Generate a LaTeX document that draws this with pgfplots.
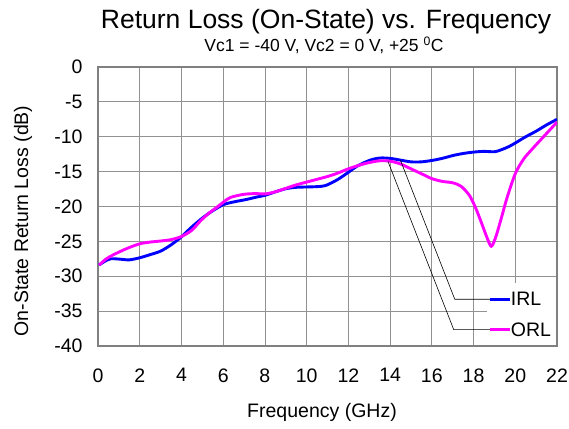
\documentclass[border=0pt]{standalone}
\usepackage{pgfplots}
\pgfplotsset{compat=1.18}
\usepackage{fontspec}
\setmainfont{Liberation Sans}
\definecolor{gridc}{RGB}{145,145,145}
\definecolor{framec}{RGB}{128,128,128}
\definecolor{irl}{RGB}{0,0,255}
\definecolor{orl}{RGB}{255,0,255}
\begin{document}
\begin{tikzpicture}[x=1pt,y=1pt]
\useasboundingbox (0,0) rectangle (569,428);
\begin{axis}[
  at={(98pt,82pt)}, anchor=south west,
  scale only axis, width=459pt, height=279pt,
  xmin=0, xmax=22, ymin=-40, ymax=0,
  xtick={0,2,...,22}, ytick={-40,-35,...,0},
  yticklabels={-40,-35,-30,-25,-20,-15,-10,-5,0},
  xticklabels={0,2,4,6,8,10,12,14,16,18,20,22},
  major tick length=0pt,
  grid=major,
  major grid style={gridc, line width=0.8pt},
  axis line style={framec, line width=1.3pt},
  tick label style={font=\fontsize{19.5}{22}\selectfont},
  yticklabel style={xshift=-12pt},
  xticklabel style={yshift=-19pt},
  /pgf/number format/assume math mode=true,
]
\addplot[irl, line width=2.9pt, smooth] coordinates {
(0.05,-28.4) (0.3,-27.9) (0.6,-27.5) (1.05,-27.55) (1.5,-27.65) (2.0,-27.35)
(2.5,-26.9) (3.0,-26.4) (3.5,-25.5) (4.0,-24.35) (4.4,-23.2) (4.9,-21.9)
(5.4,-20.8) (6.0,-19.75) (6.5,-19.35) (7.1,-19.0) (7.6,-18.65) (8.0,-18.4)
(8.5,-17.9) (9.0,-17.45) (9.5,-17.25) (10.0,-17.2) (10.5,-17.15) (10.9,-17.0)
(11.45,-16.2) (12.0,-15.1) (12.4,-14.25) (13.0,-13.4) (13.5,-13.05) (14.0,-13.1)
(14.5,-13.35) (15.0,-13.6) (15.5,-13.6) (16.0,-13.4) (16.5,-13.1) (17.0,-12.7)
(17.5,-12.4) (18.0,-12.2) (18.5,-12.1) (19.0,-12.15) (19.3,-11.9) (19.7,-11.4)
(20.0,-10.9) (20.5,-10.0) (21.0,-9.2) (21.5,-8.3) (22.0,-7.5)
};
\addplot[orl, line width=2.9pt, smooth] coordinates {
(0.05,-28.4) (0.4,-27.5) (0.75,-26.9) (1.4,-26.0) (2.0,-25.35) (2.5,-25.1)
(3.0,-24.95) (3.5,-24.75) (4.0,-24.3) (4.5,-23.4) (4.9,-22.1) (5.3,-21.0)
(5.7,-20.1) (6.0,-19.4) (6.35,-18.7) (7.0,-18.25) (7.6,-18.15) (8.0,-18.2)
(8.5,-17.9) (9.0,-17.4) (9.5,-16.9) (10.0,-16.5) (10.5,-16.1) (11.0,-15.7)
(11.5,-15.2) (12.0,-14.6) (12.5,-14.1) (13.0,-13.7) (13.5,-13.45) (14.0,-13.5)
(14.5,-13.9) (15.0,-14.6) (15.5,-15.3) (16.0,-16.0) (16.5,-16.4) (17.0,-16.6)
(17.4,-17.1) (17.8,-18.4) (18.1,-20.2) (18.4,-22.5) (18.65,-24.5) (18.85,-25.7)
(19.05,-24.5) (19.3,-22.0) (19.6,-18.8) (20.0,-15.3) (20.4,-13.2) (20.8,-11.8)
(21.2,-10.5) (21.6,-9.2) (22.0,-7.9)
};
\fill[white] (axis cs:18.65,-39.85) rectangle (axis cs:21.94,-31);
\draw[black, line width=0.6pt] (axis cs:14.5,-13.4) -- (axis cs:17.1,-33.3) -- (axis cs:18.8,-33.3);
\draw[black, line width=0.6pt] (axis cs:13.9,-13.55) -- (axis cs:17.05,-37.65) -- (axis cs:18.8,-37.65);
\draw[irl, line width=2.9pt] (axis cs:18.8,-33.3) -- (axis cs:19.75,-33.3);
\draw[orl, line width=2.9pt] (axis cs:18.8,-37.65) -- (axis cs:19.75,-37.65);
\node[anchor=west, inner sep=0pt, font=\fontsize{19.5}{22}\selectfont] at (axis cs:19.78,-33.3) {IRL};
\node[anchor=west, inner sep=0pt, font=\fontsize{19.5}{22}\selectfont] at (axis cs:19.78,-37.65) {ORL};
\end{axis}
\node[anchor=base, inner sep=0pt, font=\fontsize{26.5}{30}\selectfont] at (326,399) {Return Loss (On-State) vs. Frequency};
\node[anchor=base, inner sep=0pt, font=\fontsize{17.5}{20}\selectfont] at (324,376) {Vc1 = -40 V, Vc2 = 0 V, +25 \textsuperscript{0}C};
\node[anchor=base, inner sep=0pt, font=\fontsize{19.5}{22}\selectfont] at (322,11) {Frequency (GHz)};
\node[anchor=base, rotate=90, inner sep=0pt, font=\fontsize{19.5}{22}\selectfont] at (28,207) {On-State Return Loss (dB)};
\end{tikzpicture}
\end{document}
